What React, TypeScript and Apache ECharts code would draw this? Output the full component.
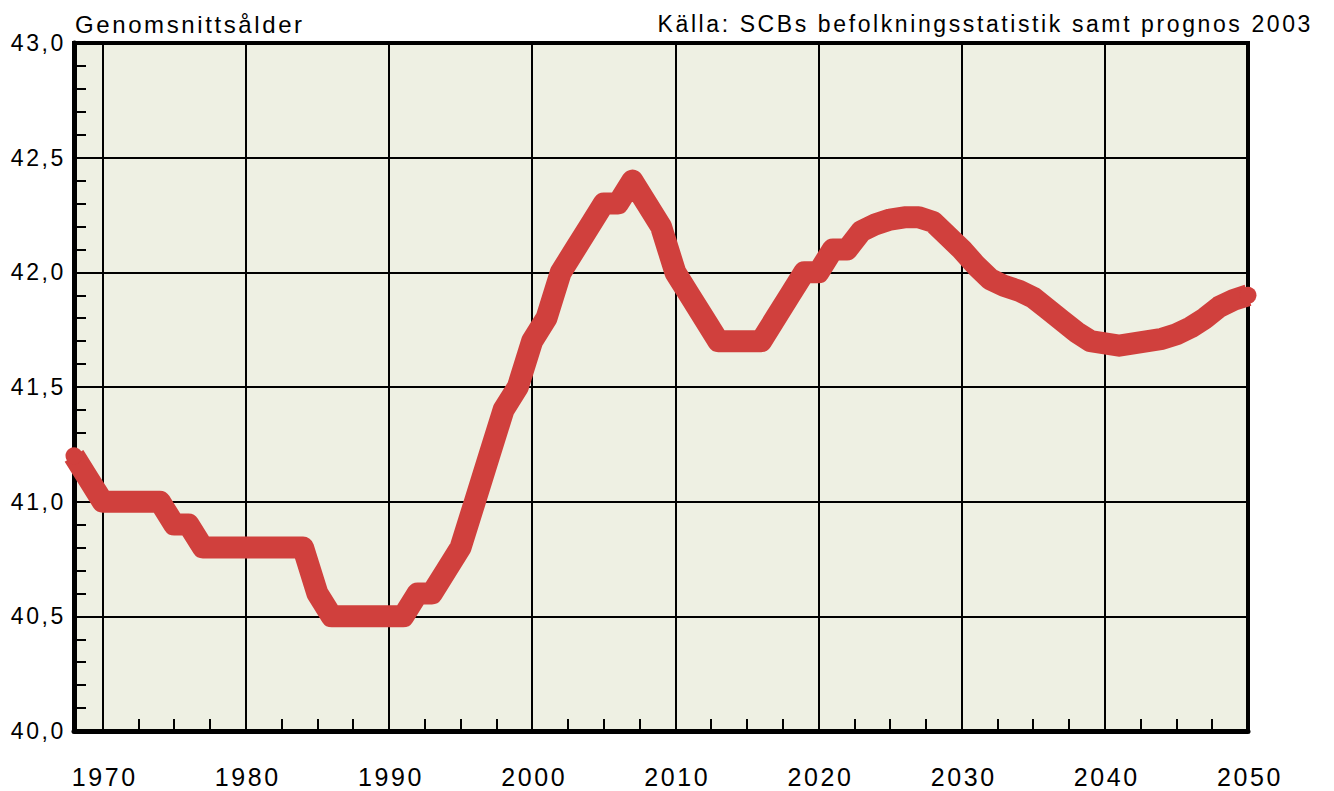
import React, { useEffect, useRef } from 'react';
import * as echarts from 'echarts';

// Years (x) and mean age (y)
const years = [
  1968, 1969, 1970, 1971, 1972, 1973, 1974, 1975, 1976, 1977,
  1978, 1979, 1980, 1981, 1982, 1983, 1984, 1985, 1986, 1987,
  1988, 1989, 1990, 1991, 1992, 1993, 1994, 1995, 1996, 1997,
  1998, 1999, 2000, 2001, 2002, 2003, 2004, 2005, 2006, 2007,
  2008, 2009, 2010, 2011, 2012, 2013, 2014, 2015, 2016, 2017,
  2018, 2019, 2020, 2021, 2022, 2023, 2024, 2025, 2026, 2027,
  2028, 2029, 2030, 2031, 2032, 2033, 2034, 2035, 2036, 2037,
  2038, 2039, 2040, 2041, 2042, 2043, 2044, 2045, 2046, 2047,
  2048, 2049, 2050,
];

const meanAge = [
  41.2, 41.1, 41.0, 41.0, 41.0, 41.0, 41.0, 40.9, 40.9, 40.8,
  40.8, 40.8, 40.8, 40.8, 40.8, 40.8, 40.8, 40.6, 40.5, 40.5,
  40.5, 40.5, 40.5, 40.5, 40.6, 40.6, 40.7, 40.8, 41.0, 41.2,
  41.4, 41.5, 41.7, 41.8, 42.0, 42.1, 42.2, 42.3, 42.3, 42.4,
  42.3, 42.2, 42.0, 41.9, 41.8, 41.7, 41.7, 41.7, 41.7, 41.8,
  41.9, 42.0, 42.0, 42.1, 42.1, 42.18, 42.21, 42.23, 42.24, 42.24,
  42.22, 42.16, 42.1, 42.03, 41.97, 41.94, 41.92, 41.89, 41.84, 41.79,
  41.74, 41.7, 41.69, 41.68, 41.69, 41.7, 41.71, 41.73, 41.76, 41.8,
  41.85, 41.88, 41.9,
];

const xLabelYears = [1970, 1980, 1990, 2000, 2010, 2020, 2030, 2040, 2050];
const xMinorTickYears = [
  1972.5, 1975, 1977.5, 1982.5, 1985, 1987.5, 1992.5, 1995, 1997.5,
  2002.5, 2005, 2007.5, 2012.5, 2015, 2017.5, 2022.5, 2025, 2027.5,
  2032.5, 2035, 2037.5, 2042.5, 2045, 2047.5,
];

const titleLeft = 'Genomsnittsålder';
const titleRight = 'Källa: SCBs befolkningsstatistik samt prognos 2003';

const FONT = '"Liberation Sans", Arial, sans-serif';
const RED = '#d0403d';

export default function App() {
  const ref = useRef<HTMLDivElement>(null);

  useEffect(() => {
    if (!ref.current) return;
    const chart = echarts.init(ref.current, undefined, { renderer: 'svg' });
    const last = years.length - 1;
    const data = years.map((y, i) => {
      const item: any = { value: [y, meanAge[i]] };
      if (i === 0 || i === last) {
        item.symbol = 'circle';
        item.symbolSize = 17;
        item.itemStyle = { color: RED, borderWidth: 0 };
      }
      return item;
    });

    chart.setOption({
      animation: false,
      backgroundColor: '#ffffff',
      grid: {
        left: 74,
        right: 86,
        top: 43,
        bottom: 60,
        show: true,
        backgroundColor: '#eef0e3',
        borderColor: '#000000',
        borderWidth: 4,
      },
      graphic: [
        {
          type: 'text',
          x: 75,
          y: 24,
          style: {
            text: titleLeft,
            fill: '#000',
            font: `24px ${FONT}`,
            align: 'left',
            verticalAlign: 'middle',
            textAlign: 'left',
            textVerticalAlign: 'middle',
          },
        },
        {
          type: 'text',
          x: 1313,
          y: 24,
          style: {
            text: titleRight,
            fill: '#000',
            font: `23px ${FONT}`,
            align: 'right',
            verticalAlign: 'middle',
            textAlign: 'right',
            textVerticalAlign: 'middle',
          },
        },
      ],
      xAxis: [
        {
          type: 'value',
          min: 1968,
          max: 2050,
          splitNumber: 8,
          minInterval: 10,
          maxInterval: 10,
          position: 'bottom',
          axisLine: { show: true, onZero: false, lineStyle: { color: '#000', width: 5 } },
          axisTick: { show: false, customValues: xLabelYears },
          splitLine: { show: true, lineStyle: { color: '#000', width: 2 } },
          axisLabel: {
            customValues: xLabelYears,
            color: '#000',
            fontSize: 25,
            fontFamily: FONT,
            margin: 46,
            verticalAlign: 'middle',
            padding: [0, 0, 0, 4],
            formatter: (v: number) => String(v),
          },
        },
        {
          type: 'value',
          min: 1968,
          max: 2050,
          position: 'bottom',
          axisLine: { show: false },
          axisLabel: { show: false },
          splitLine: { show: false },
          axisTick: {
            show: true,
            inside: true,
            length: 12,
            customValues: xMinorTickYears,
            lineStyle: { color: '#000', width: 2 },
          },
        },
      ],
      yAxis: {
        type: 'value',
        min: 40,
        max: 43,
        interval: 0.5,
        axisLine: { show: true, onZero: false, lineStyle: { color: '#000', width: 5 } },
        axisTick: { show: true, inside: true, length: 12, lineStyle: { color: '#000', width: 2 } },
        minorTick: { show: true, splitNumber: 5, length: 12, lineStyle: { color: '#000', width: 2 } },
        splitLine: { show: true, lineStyle: { color: '#000', width: 2 } },
        axisLabel: {
          color: '#000',
          fontSize: 23,
          fontFamily: FONT,
          margin: 8,
          padding: [6, 0, 0, 0],
          formatter: (v: number) => v.toFixed(1).replace('.', ','),
        },
      },
      series: [
        {
          type: 'line',
          data,
          xAxisIndex: 0,
          yAxisIndex: 0,
          showSymbol: true,
          symbol: 'none',
          clip: false,
          lineStyle: { color: RED, width: 22, cap: 'butt', join: 'round' },
          z: 5,
        },
      ],
    });

    return () => chart.dispose();
  }, []);

  return (
    <>
      <style>{`#chart-box svg text { letter-spacing: 2.6px; }`}</style>
      <div
        id="chart-box"
        ref={ref}
        style={{ position: 'absolute', left: 0, top: 0, width: 1334, height: 791 }}
      />
    </>
  );
}
